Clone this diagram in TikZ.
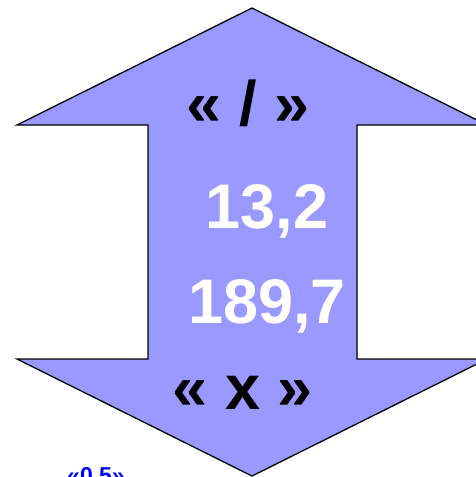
\documentclass[tikz,border=0pt]{standalone}
\usepackage{fontspec}
\setmainfont{Liberation Sans}
\usepackage{tikz}
\usetikzlibrary{positioning}
\definecolor{arrowfill}{HTML}{9999FF}

\begin{document}
\begin{tikzpicture}[
    x=1pt, y=-1pt,
    label/.style={font=\fontsize{63}{63}\selectfont\bfseries, inner sep=0pt},
    small/.style={font=\fontsize{23}{23}\selectfont\bfseries, inner sep=0pt, text=blue}
]
\useasboundingbox (0,0) rectangle (475,477);

% double arrow
\draw[fill=arrowfill, line width=1.3pt, line join=miter]
    (252,8) -- (487,125) -- (357,125) -- (357,359) -- (487,359)
    -- (252,476) -- (17,359) -- (148,359) -- (148,125) -- (17,125) -- cycle;

% labels
\node[label] (div) at (248,103) {« / »};
\node[label, text=white] (top) at (267,211) {13,2};
\node[label, text=white] (bot) at (267,306) {189,7};
\node[label] (mul) at (243,393) {« x »};

\node[small] (part) at (96,477) {«0,5»};

\end{tikzpicture}
\end{document}
